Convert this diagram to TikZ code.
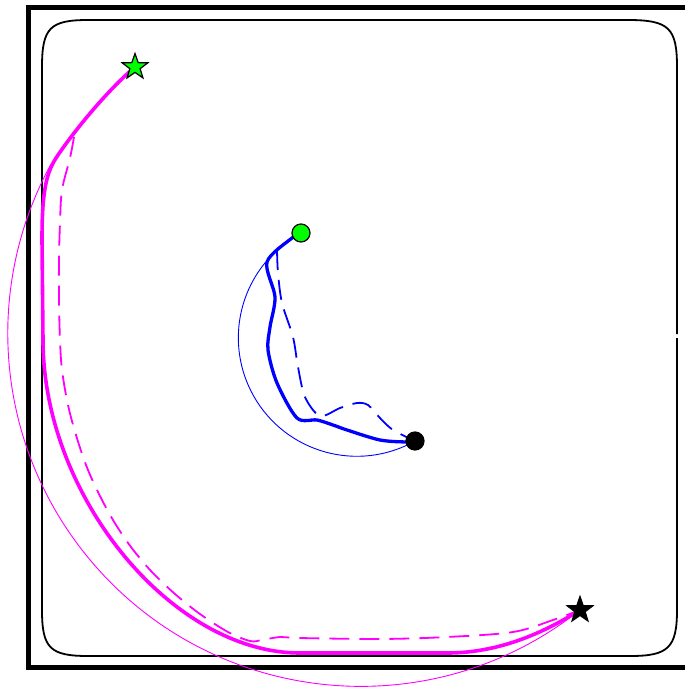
\documentclass[tikz,border=0pt]{standalone}
\usepackage{tikz}
\usetikzlibrary{shapes.geometric}
\definecolor{mag}{RGB}{255,0,255}
\definecolor{grn}{RGB}{0,255,0}
\definecolor{blu}{RGB}{0,0,255}

\begin{document}
\begin{tikzpicture}[
    x=1pt, y=-1pt,
    frame/.style={line width=5.5pt, black},
    arena/.style={line width=1.8pt, black},
    traj/.style={line width=3.6pt, line join=round},
    ref/.style={line width=1.8pt, dash pattern=on 20pt off 10pt},
    guide/.style={line width=0.9pt},
    goal/.style={star, star points=5, star point ratio=2.5, minimum size=27pt, inner sep=0pt, draw=black, line width=1.2pt},
    dot/.style={circle, minimum size=18pt, inner sep=0pt, draw=black, line width=1.2pt}
]
\useasboundingbox (0,0) rectangle (685,691);
\clip (0,0) rectangle (685,691);

% outer frame and arena
\draw[frame] (700,7.5) -- (28.7,7.5) -- (28.7,667.5) -- (700,667.5);
\draw[arena] (677,338) -- (677,610) .. controls (677,648) and (668,656) .. (630,656)
    -- (88,656) .. controls (50,656) and (42,648) .. (42,610)
    -- (42,67) .. controls (42,28) and (50,20) .. (88,20)
    -- (628,20) .. controls (669,20) and (677,28) .. (677,67) -- (677,334);

% end points
\coordinate (magStart) at (135,67);
\coordinate (magEnd) at (580,610);
\coordinate (bluStart) at (301,233);
\coordinate (bluEnd) at (415,441);

% guide arcs
\draw[guide, mag] (magEnd) arc[start angle=51.6, end angle=208.6, radius=353];
\draw[guide, blu] (bluEnd) arc[start angle=60.6, end angle=219.6, radius=118.5];

% magenta run
\draw[traj, mag] (magStart) .. controls (110,88) and (76,128) .. (56,158)
    .. controls (46,174) and (42,192) .. (42,240) -- (43,340)
    .. controls (43,496) and (172,653) .. (300,653) -- (447,653)
    .. controls (500,653) and (545,632) .. (magEnd);
\draw[ref, mag] plot[smooth, tension=0.55] coordinates {(74,137) (70,158) (62,190) (60,223)
    (59,260) (59,300) (60,340) (62,370) (68,405) (76,435) (86,465) (98,492) (113,520)
    (131,547) (151,571) (175,594) (200,614) (228,632) (250,641) (262,640) (280,637)
    (300,638) (380,639) (447,637) (513,632) (553,620) (magEnd)};

% blue run
\draw[traj, blu, line width=3.3pt] plot[smooth, tension=0.5] coordinates {(bluStart) (292,238) (267,262)
    (275,297) (270,327) (268,350) (277,383) (297,418) (317,420) (333,425) (347,430)
    (380,440) (407,442) (bluEnd)};
\draw[ref, blu] plot[smooth, tension=0.5] coordinates {(277,250) (278,273) (282,303) (293,337)
    (298,367) (305,397) (320,416) (340,408) (357,403) (368,405) (380,418) (393,430) (bluEnd)};

% markers
\node[goal, fill=grn] (magStartMark) at (magStart) {};
\node[goal, fill=black] (magEndMark) at (magEnd) {};
\node[dot, fill=grn] (bluStartMark) at (bluStart) {};
\node[dot, fill=black] (bluEndMark) at (bluEnd) {};
\end{tikzpicture}
\end{document}
